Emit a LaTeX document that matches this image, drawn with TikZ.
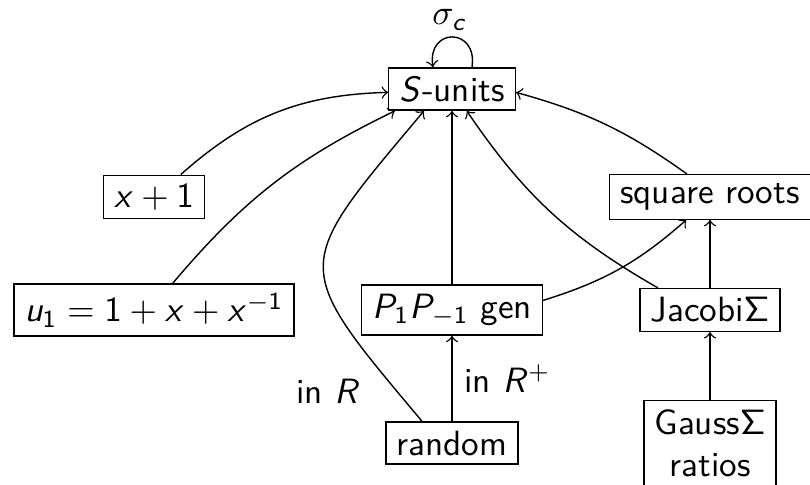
\documentclass[tikz,border=0pt]{standalone}
% sans serif math, as on a slide
\DeclareSymbolFont{operators}{OT1}{cmss}{m}{n}
\DeclareSymbolFont{sfitalic}{OT1}{cmss}{m}{sl}
\DeclareMathSymbol{S}{\mathalpha}{sfitalic}{`S}
\DeclareMathSymbol{P}{\mathalpha}{sfitalic}{`P}
\DeclareMathSymbol{R}{\mathalpha}{sfitalic}{`R}
\DeclareMathSymbol{x}{\mathalpha}{sfitalic}{`x}
\DeclareMathSymbol{u}{\mathalpha}{sfitalic}{`u}
\DeclareMathSymbol{c}{\mathalpha}{sfitalic}{`c}

\begin{document}
\begin{tikzpicture}[x=0.1mm,y=0.1mm,>=to,font=\sffamily,
  unit/.style={draw,inner xsep=3pt,inner ysep=2.5pt}]
\useasboundingbox (0,0) rectangle (810,484);
% boxes
\node[unit] (su) at (452,395) {$S$-units};
\node[unit] (x1) at (154,287) {$x+1$};
\node[unit] (u1) at (154,174) {$u_1=1+x+x^{-1}$};
\node[unit] (pp) at (452,174) {$P_1P_{-1}$ gen};
\node[unit] (sq) at (710,287) {square roots};
\node[unit] (jac) at (710,174) {Jacobi$\Sigma$};
\node[unit] (rnd) at (452,41) {random};
\node[unit,align=center] (gs) at (710,41) {Gauss$\Sigma$\\ratios};
% self loop on the units
\node (sig) at (450,464) {$\sigma_c$};
\draw[->] ([xshift=2mm]su.north) .. controls +(0.6mm,4mm) and +(-0.6mm,4mm) .. ([xshift=-1.9mm]su.north);
% curved arrows into the units
\draw[->] (x1.40) to[bend left=20] (su.183);
\draw[->] (u1.55) to[bend left=12] (su.201);
\draw[->] (rnd.144) to[out=130,in=230,looseness=1.7] (su.218);
\node (inr) at (328,93) {in $R$};
\draw[->] (jac.157) to[bend left=13] (su.304);
\draw[->] (sq.135) to[bend right=10] (su.357);
\draw[->] (pp.6) to[bend right=12] (sq.224);
% straight arrows
\draw[->] (rnd) -- node[right] {in $R^+$} (pp);
\draw[->] (pp) -- (su);
\draw[->] (jac) -- (sq);
\draw[->] (gs) -- (jac);
\end{tikzpicture}
\end{document}
